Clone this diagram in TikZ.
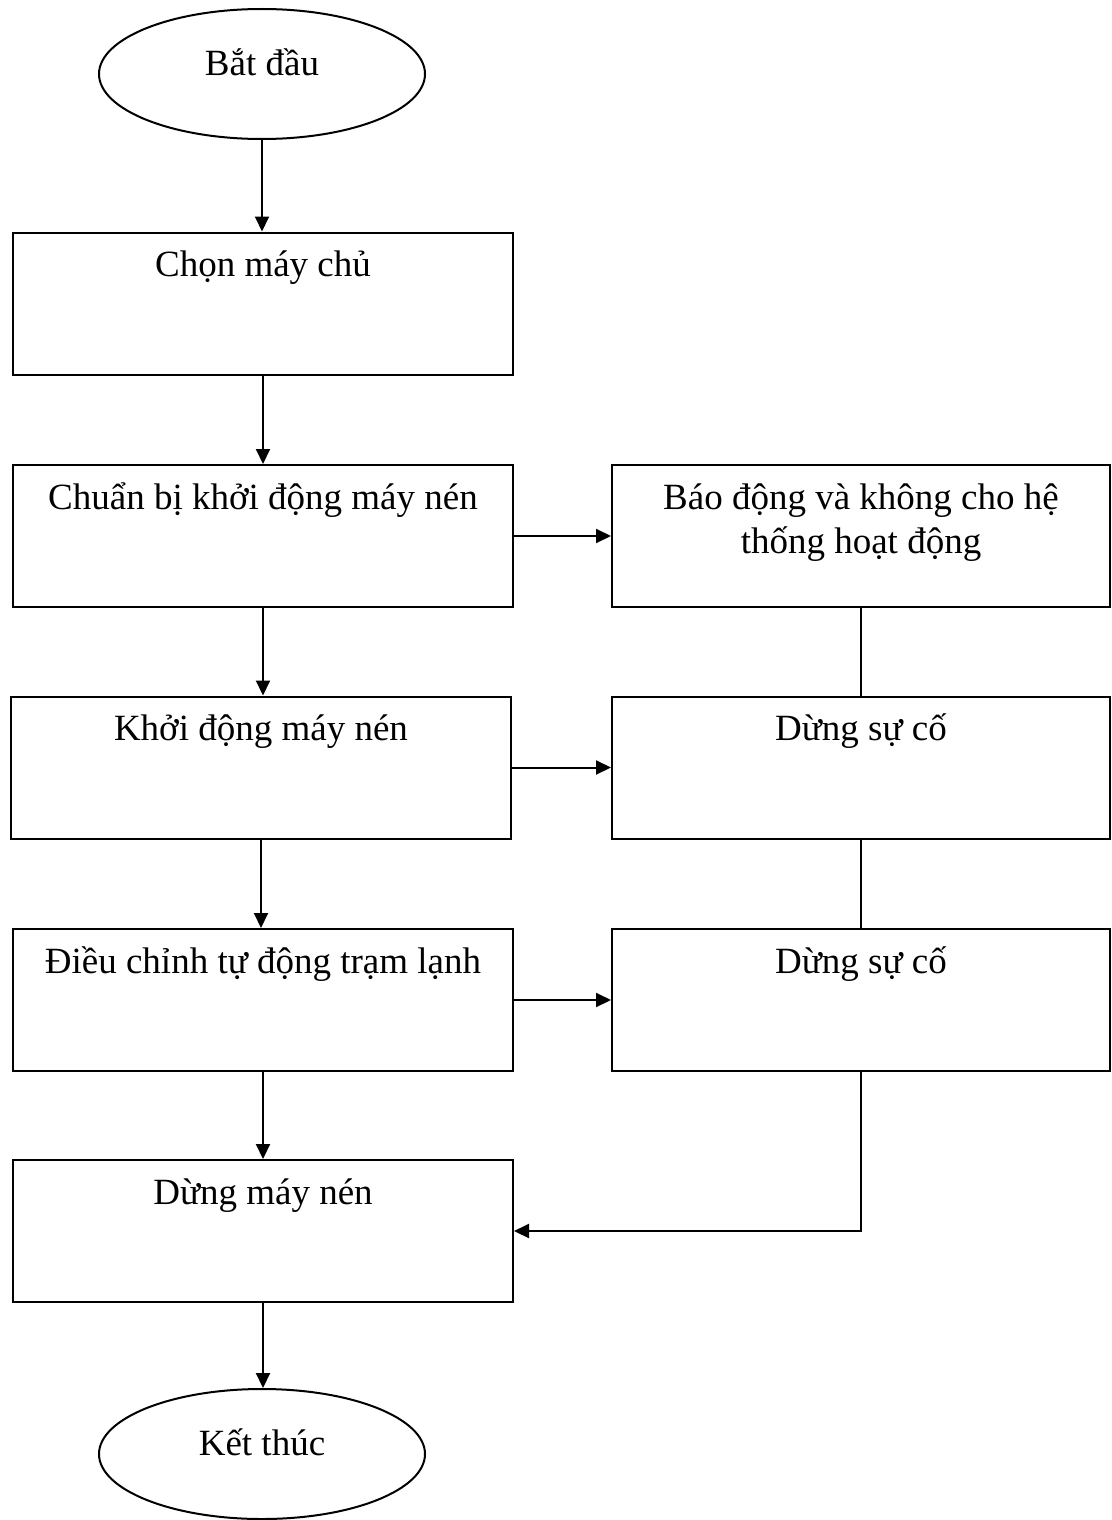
\documentclass[tikz,border=0pt]{standalone}
\usepackage{fontspec}
\setmainfont{Liberation Serif}
\usetikzlibrary{arrows.meta,shapes.geometric}
% fixed-height strut so every box caption starts at the same baseline
\newcommand{\boxstrut}{\rule{0pt}{22.5pt}}
\begin{document}
\begin{tikzpicture}[x=0.5pt,y=-0.5pt,
  font=\fontsize{18.5pt}{22pt}\selectfont,
  stepbox/.style={draw, line width=1pt, rectangle, minimum width=250pt,
    minimum height=71pt, inner sep=0pt},
  sidebox/.style={stepbox, minimum width=249pt},
  terminal/.style={draw, line width=1pt, ellipse, minimum width=163pt,
    minimum height=65pt, inner sep=0pt},
  boxtext/.style={anchor=north, inner sep=0pt, align=center},
  termtext/.style={inner sep=0pt, yshift=6pt},
  flow/.style={line width=1pt, -{Triangle[length=7.5pt,width=7pt]}},
  link/.style={line width=0.8pt}
]
\useasboundingbox (0,0) rectangle (1112,1520);

% main column
\node[terminal, label={[termtext]center:Bắt đầu}] (start) at (262,74) {};
\node[stepbox, label={[boxtext]north:\boxstrut Chọn máy chủ}] (b1) at (263,303.5) {};
\node[stepbox, label={[boxtext]north:\boxstrut Chuẩn bị khởi động máy nén}] (b2) at (263,536) {};
\node[stepbox, label={[boxtext]north:\boxstrut Khởi động máy nén}] (b3) at (261,767.5) {};
\node[stepbox, label={[boxtext]north:\boxstrut Điều chỉnh tự động trạm lạnh}] (b4) at (263,1000) {};
\node[stepbox, label={[boxtext]north:\boxstrut Dừng máy nén}] (b5) at (263,1231) {};
\node[terminal, label={[termtext]center:Kết thúc}] (stop) at (262,1454) {};

% fault column
\node[sidebox, label={[boxtext]north:\boxstrut Báo động và không cho hệ\\thống hoạt động}] (r1) at (861,536) {};
\node[sidebox, label={[boxtext]north:\boxstrut Dừng sự cố}] (r2) at (861,767.5) {};
\node[sidebox, label={[boxtext]north:\boxstrut Dừng sự cố}] (r3) at (861,1000) {};

% normal sequence
\draw[flow] (start.south) -- (start.south |- b1.north);
\draw[flow] (b1.south) -- (b1.south |- b2.north);
\draw[flow] (b2.south) -- (b2.south |- b3.north);
\draw[flow] (b3.south) -- (b3.south |- b4.north);
\draw[flow] (b4.south) -- (b4.south |- b5.north);
\draw[flow] (b5.south) -- (b5.south |- stop.north);

% fault branches
\draw[flow] (b2.east) -- (r1.west);
\draw[flow] (b3.east) -- (b3.east -| r2.west);
\draw[flow] (b4.east) -- (r3.west);
\draw[link] (r1.south) -- (r2.north);
\draw[link] (r2.south) -- (r3.north);
\draw[flow] (r3.south) |- (b5.east);
\end{tikzpicture}
\end{document}
